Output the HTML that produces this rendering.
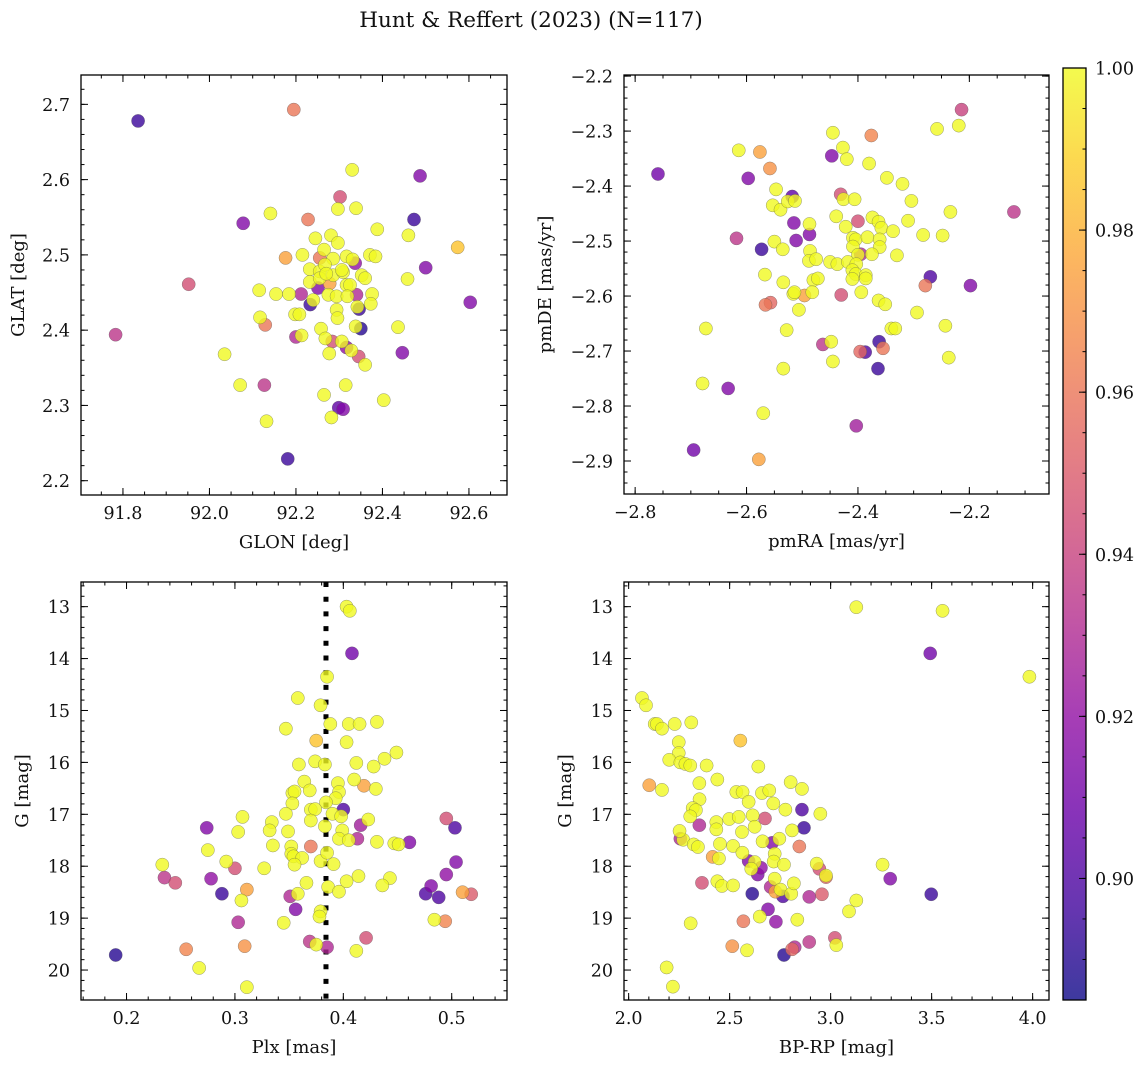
<!DOCTYPE html>
<html><head><meta charset="utf-8"><title>Hunt & Reffert (2023)</title>
<style>
html,body{margin:0;padding:0;background:#fff;}
svg{display:block;font-family:"DejaVu Serif","Liberation Serif",serif;}
</style></head>
<body>
<svg id="fig" width="1148" height="1068" viewBox="0 0 1148 1068" xmlns="http://www.w3.org/2000/svg">
<text x="531" y="27" font-size="21.5" text-anchor="middle" fill="#111">Hunt &amp; Reffert (2023) (N=117)</text>
</svg>
<script>
// ---------- data ----------
const glon=[91.835,92.195,92.330,92.487,92.302,92.297,92.339,92.141,92.228,92.078,92.473,92.388,92.460,92.574,92.281,92.245,92.297,92.265,92.176,92.215,92.255,92.286,92.317,92.337,92.371,92.384,92.500,92.232,92.255,92.267,92.286,92.309,92.352,92.360,92.458,91.952,92.278,92.232,92.317,92.325,92.115,92.154,92.184,92.212,92.251,92.275,92.294,92.319,92.340,92.376,92.373,92.233,92.240,92.346,92.342,92.294,92.296,92.198,92.208,92.117,92.129,92.350,92.338,92.436,91.783,92.200,92.213,92.258,92.268,92.284,92.306,92.317,92.328,92.345,92.360,92.277,92.446,92.035,92.071,92.127,92.315,92.265,92.403,92.299,92.309,92.132,92.282,92.181,92.603,92.255,92.306,92.331,92.270];
const glat=[2.678,2.693,2.613,2.605,2.577,2.561,2.562,2.555,2.547,2.542,2.547,2.534,2.526,2.510,2.526,2.522,2.516,2.507,2.496,2.500,2.496,2.495,2.498,2.489,2.500,2.498,2.483,2.481,2.478,2.487,2.473,2.477,2.473,2.469,2.468,2.461,2.462,2.464,2.460,2.460,2.453,2.448,2.448,2.448,2.456,2.447,2.445,2.445,2.447,2.448,2.435,2.434,2.440,2.428,2.431,2.427,2.416,2.421,2.421,2.417,2.407,2.402,2.405,2.404,2.394,2.391,2.393,2.402,2.389,2.385,2.385,2.377,2.373,2.365,2.354,2.369,2.370,2.368,2.327,2.327,2.327,2.314,2.307,2.297,2.295,2.279,2.284,2.229,2.437,2.469,2.480,2.494,2.475];
const glProb=[0.895,0.96,1,0.915,0.945,1,1,1,0.96,0.915,0.895,1,1,0.985,1,1,1,1,0.975,1,0.96,1,1,0.92,1,1,0.915,1,1,1,1,1,1,1,1,0.945,0.975,1,1,1,1,1,1,0.93,0.915,1,1,1,0.93,1,1,0.895,1,0.895,1,1,1,1,1,1,0.96,0.89,1,1,0.935,0.93,1,1,1,0.945,1,0.92,1,0.945,1,1,0.915,1,1,0.935,1,1,1,0.905,0.915,1,1,0.895,0.915,1,1,1,1];

const pmra=[-2.214,-2.258,-2.219,-2.445,-2.376,-2.614,-2.576,-2.447,-2.427,-2.420,-2.380,-2.759,-2.558,-2.597,-2.348,-2.320,-2.547,-2.518,-2.431,-2.553,-2.539,-2.526,-2.513,-2.426,-2.406,-2.304,-2.234,-2.120,-2.515,-2.487,-2.439,-2.400,-2.374,-2.363,-2.310,-2.422,-2.358,-2.337,-2.283,-2.248,-2.618,-2.511,-2.487,-2.550,-2.573,-2.535,-2.486,-2.409,-2.404,-2.383,-2.361,-2.409,-2.361,-2.395,-2.400,-2.375,-2.330,-2.488,-2.475,-2.450,-2.437,-2.418,-2.403,-2.410,-2.404,-2.567,-2.534,-2.480,-2.472,-2.410,-2.386,-2.386,-2.270,-2.279,-2.198,-2.516,-2.514,-2.496,-2.482,-2.430,-2.394,-2.566,-2.557,-2.506,-2.363,-2.351,-2.294,-2.673,-2.528,-2.340,-2.333,-2.243,-2.463,-2.448,-2.396,-2.387,-2.362,-2.355,-2.237,-2.445,-2.534,-2.364,-2.679,-2.633,-2.570,-2.403,-2.695,-2.578];
const pmde=[-2.261,-2.296,-2.290,-2.303,-2.308,-2.335,-2.338,-2.345,-2.330,-2.351,-2.359,-2.378,-2.368,-2.386,-2.385,-2.396,-2.406,-2.419,-2.415,-2.435,-2.443,-2.428,-2.427,-2.424,-2.424,-2.427,-2.447,-2.447,-2.467,-2.469,-2.455,-2.464,-2.457,-2.465,-2.463,-2.474,-2.476,-2.482,-2.489,-2.490,-2.495,-2.499,-2.488,-2.501,-2.515,-2.515,-2.518,-2.494,-2.497,-2.493,-2.497,-2.510,-2.511,-2.524,-2.525,-2.524,-2.526,-2.536,-2.533,-2.538,-2.542,-2.538,-2.542,-2.553,-2.560,-2.561,-2.575,-2.571,-2.568,-2.569,-2.562,-2.568,-2.565,-2.581,-2.581,-2.596,-2.593,-2.599,-2.593,-2.598,-2.593,-2.616,-2.612,-2.625,-2.608,-2.615,-2.630,-2.659,-2.662,-2.659,-2.659,-2.654,-2.688,-2.683,-2.701,-2.702,-2.683,-2.695,-2.712,-2.719,-2.732,-2.732,-2.759,-2.768,-2.813,-2.836,-2.880,-2.897];
const pmProb=[0.94,1,1,1,0.965,1,0.975,0.915,1,1,1,0.91,0.97,0.915,1,1,1,0.905,0.945,1,1,1,1,1,1,1,1,0.935,0.915,1,1,0.945,1,1,1,1,1,1,1,1,0.935,0.915,0.915,1,0.895,1,1,1,1,1,1,1,1,0.93,1,1,1,1,1,1,1,1,1,1,1,1,1,1,1,1,1,1,0.9,0.96,0.915,1,1,0.975,1,0.945,1,0.96,0.955,1,1,1,1,1,1,1,1,1,0.935,1,0.955,0.9,0.895,0.96,1,1,1,0.895,1,0.915,1,0.925,0.91,0.975];

const plx=[0.403,0.406,0.408,0.385,0.358,0.379,0.347,0.388,0.405,0.415,0.431,0.375,0.403,0.359,0.374,0.383,0.412,0.428,0.438,0.449,0.410,0.419,0.430,0.364,0.369,0.353,0.355,0.353,0.395,0.396,0.393,0.384,0.347,0.370,0.374,0.400,0.390,0.398,0.370,0.383,0.307,0.274,0.303,0.334,0.332,0.349,0.416,0.423,0.399,0.396,0.405,0.413,0.431,0.447,0.451,0.461,0.495,0.503,0.275,0.335,0.352,0.370,0.352,0.354,0.362,0.355,0.379,0.385,0.391,0.292,0.300,0.327,0.233,0.235,0.245,0.278,0.504,0.495,0.414,0.403,0.443,0.436,0.366,0.386,0.396,0.358,0.351,0.311,0.306,0.288,0.481,0.476,0.488,0.510,0.518,0.356,0.379,0.378,0.345,0.303,0.484,0.494,0.190,0.255,0.309,0.369,0.375,0.385,0.412,0.421,0.267,0.311];
const gmagL=[13.00,13.08,13.90,14.35,14.76,14.90,15.35,15.26,15.26,15.26,15.22,15.58,15.61,16.04,15.98,16.04,16.01,16.08,15.93,15.81,16.33,16.45,16.51,16.37,16.54,16.59,16.56,16.79,16.40,16.57,16.69,16.77,16.99,16.91,16.90,16.91,16.99,17.04,17.12,17.23,17.05,17.26,17.34,17.15,17.31,17.33,17.21,17.10,17.31,17.47,17.50,17.47,17.53,17.56,17.58,17.54,17.08,17.26,17.69,17.60,17.62,17.62,17.76,17.81,17.84,17.97,17.90,17.74,17.96,17.91,18.04,18.04,17.97,18.22,18.32,18.24,17.92,18.16,18.19,18.29,18.23,18.37,18.32,18.40,18.49,18.53,18.58,18.45,18.66,18.53,18.38,18.53,18.60,18.50,18.54,18.83,18.87,18.97,19.09,19.08,19.03,19.06,19.71,19.60,19.54,19.45,19.51,19.56,19.63,19.38,19.96,20.33];
const plxProb=[1,1,0.91,1,1,1,1,1,1,1,1,0.985,1,1,1,1,1,1,1,1,1,0.975,1,1,1,1,1,1,1,1,1,1,1,1,1,0.9,1,1,1,1,1,0.915,1,1,1,1,0.925,1,1,1,1,0.93,1,1,1,0.915,0.945,0.9,1,1,1,0.96,1,1,1,1,1,1,1,1,0.945,1,1,0.935,0.945,0.92,0.915,0.92,1,1,1,1,1,1,1,1,0.93,0.975,1,0.895,0.915,0.9,0.9,0.975,0.95,0.915,1,1,1,0.93,1,0.965,0.89,0.965,0.97,0.935,1,0.93,1,0.945,1,1];
const plxRef=[0.384];

const bprp=[3.127,3.554,3.493,3.984,2.066,2.086,2.129,2.140,2.165,2.228,2.310,2.553,2.248,2.248,2.201,2.256,2.281,2.305,2.386,2.642,2.102,2.165,2.350,2.439,2.802,2.858,2.351,2.317,2.333,2.305,2.533,2.564,2.594,2.660,2.696,2.716,2.776,2.858,2.949,2.868,2.350,2.434,2.434,2.498,2.545,2.561,2.614,2.624,2.675,2.809,2.256,2.270,2.252,2.322,2.343,2.452,2.517,2.563,2.663,2.710,2.746,2.845,2.416,2.447,2.594,2.624,2.655,2.607,2.639,2.723,2.718,2.769,2.931,2.944,2.977,2.977,3.257,3.295,2.363,2.439,2.462,2.517,2.723,2.703,2.726,2.752,2.764,2.805,2.818,2.612,2.894,2.957,3.498,3.127,3.091,2.690,2.649,2.729,2.568,2.835,2.307,3.021,3.028,2.894,2.822,2.809,2.769,2.513,2.586,2.188,2.219];
const gmagC=[13.01,13.08,13.90,14.35,14.76,14.90,15.26,15.26,15.35,15.26,15.23,15.58,15.61,15.82,15.95,16.00,16.03,16.06,16.06,16.08,16.44,16.53,16.40,16.33,16.38,16.51,16.71,16.88,16.92,17.04,16.57,16.57,16.76,16.59,16.54,16.79,16.91,16.91,16.99,17.26,17.21,17.15,17.29,17.09,17.05,17.34,17.02,17.24,17.08,17.31,17.47,17.49,17.32,17.58,17.63,17.57,17.61,17.74,17.52,17.55,17.47,17.62,17.82,17.85,17.90,17.92,18.03,18.05,18.16,17.76,17.91,17.97,17.95,18.05,18.21,18.18,17.97,18.24,18.32,18.29,18.38,18.37,18.24,18.40,18.49,18.45,18.58,18.53,18.33,18.53,18.59,18.54,18.54,18.66,18.87,18.83,18.97,19.07,19.06,19.03,19.10,19.38,19.52,19.46,19.56,19.60,19.71,19.54,19.62,19.95,20.32];
const cmdProb=[1,1,0.91,1,1,1,1,1,1,1,1,0.985,1,1,1,1,1,1,1,1,0.975,1,1,1,1,1,1,1,1,1,1,1,1,1,1,1,1,0.9,1,0.895,0.93,1,1,1,1,1,1,1,0.945,1,0.93,1,1,1,1,1,1,1,1,0.915,1,0.96,0.975,1,0.915,1,0.92,1,0.915,1,1,1,1,0.945,0.955,1,1,0.915,0.945,1,1,1,1,0.93,0.975,1,0.9,1,1,0.89,0.93,0.95,0.895,1,1,0.915,1,0.92,0.96,1,1,0.945,1,0.935,0.93,0.955,0.89,0.97,1,1,1];

const tlXTicks=[91.8,92.0,92.2,92.4,92.6], tlYTicks=[2.2,2.3,2.4,2.5,2.6,2.7];
const trXTicks=[-2.8,-2.6,-2.4,-2.2], trYTicks=[-2.9,-2.8,-2.7,-2.6,-2.5,-2.4,-2.3,-2.2];
const blXTicks=[0.2,0.3,0.4,0.5], gTicks=[13,14,15,16,17,18,19,20];
const brXTicks=[2.0,2.5,3.0,3.5,4.0];
const cbTicks=[0.90,0.92,0.94,0.96,0.98,1.00];
const probMin=0.885, probMax=1.0;

// ---------- helpers ----------
const NS="http://www.w3.org/2000/svg";
const svg=document.getElementById('fig');
const TICK_FS=17.5, LABEL_FS=18;
function mk(tag,attrs,parent){const e=document.createElementNS(NS,tag);for(const k in attrs)e.setAttribute(k,attrs[k]);(parent||svg).appendChild(e);return e;}
const stops=[[13,8,135],[65,4,157],[106,0,168],[143,13,164],[177,42,144],[204,71,120],[225,100,98],[242,132,75],[252,166,54],[252,206,37],[240,249,33]];
function plasma(t){t=Math.max(0,Math.min(1,t));const f=t*10,i=Math.min(9,Math.floor(f)),r=f-i;const a=stops[i],b=stops[i+1];return 'rgb('+[0,1,2].map(k=>Math.round(a[k]+(b[k]-a[k])*r)).join(',')+')';}
function pcol(p){return plasma((p-probMin)/(probMax-probMin));}
function fmt(v,d){const s=Math.abs(v).toFixed(d);return (v<0?'\u2212':'')+s;}

function panel(o){
  const g=mk('g',{});
  
  
  const sx=v=>o.x0+(v-o.xmin)/(o.xmax-o.xmin)*(o.x1-o.x0);
  const sy=o.yinv? (v=>o.y0+(v-o.ymin)/(o.ymax-o.ymin)*(o.y1-o.y0)) : (v=>o.y1-(v-o.ymin)/(o.ymax-o.ymin)*(o.y1-o.y0));
  const clipId='clip-'+o.name;
  const cp=mk('clipPath',{id:clipId},g);mk('rect',{x:o.x0,y:o.y0,width:o.x1-o.x0,height:o.y1-o.y0},cp);
  const pts=mk('g',{'clip-path':'url(#'+clipId+')'},g);
  
  
  if(o.vline!==undefined){
    const l=mk('line',{x1:sx(o.vline),x2:sx(o.vline),y1:o.y0,y2:o.y1,stroke:'#000','stroke-width':5,'stroke-dasharray':'5,9.7'},pts);
    
    
  }
  const order=o.xs.map((_,i)=>i).sort((a,b)=>o.c[a]-o.c[b]);
  for(const i of order){
    const c=mk('circle',{cx:sx(o.xs[i]),cy:sy(o.ys[i]),r:6.6,fill:pcol(o.c[i]),'fill-opacity':0.8,stroke:'#555','stroke-opacity':0.6,'stroke-width':0.5},pts);
    
    
  }
  const tk=mk('g',{stroke:'#000','stroke-width':1},g);
  function minors(min,max,step){const a=[];for(let v=Math.ceil(min/step-1e-6)*step;v<=max+1e-9;v+=step)a.push(v);return a;}
  for(const v of minors(o.xmin,o.xmax,o.xminor)){const x=sx(v);mk('line',{x1:x,x2:x,y1:o.y1,y2:o.y1-3.5},tk);mk('line',{x1:x,x2:x,y1:o.y0,y2:o.y0+3.5},tk);}
  for(const v of minors(o.ymin,o.ymax,o.yminor)){const y=sy(v);mk('line',{x1:o.x0,x2:o.x0+3.5,y1:y,y2:y},tk);mk('line',{x1:o.x1,x2:o.x1-3.5,y1:y,y2:y},tk);}
  for(const v of o.xt){const x=sx(v);mk('line',{x1:x,x2:x,y1:o.y1,y2:o.y1-7},tk);mk('line',{x1:x,x2:x,y1:o.y0,y2:o.y0+7},tk);
    const t=mk('text',{x:x,y:o.y1+24,'font-size':TICK_FS,'text-anchor':'middle',fill:'#111'},g);t.textContent=o.xfmt(v);
    }
  for(const v of o.yt){const y=sy(v);mk('line',{x1:o.x0,x2:o.x0+7,y1:y,y2:y},tk);mk('line',{x1:o.x1,x2:o.x1-7,y1:y,y2:y},tk);
    const t=mk('text',{x:o.x0-11,y:y+6.5,'font-size':TICK_FS,'text-anchor':'end',fill:'#111'},g);t.textContent=o.yfmt(v);
    }
  mk('rect',{x:o.x0,y:o.y0,width:o.x1-o.x0,height:o.y1-o.y0,fill:'none',stroke:'#000','stroke-width':1.3},g);
  const xl=mk('text',{x:(o.x0+o.x1)/2,y:o.y1+53,'font-size':LABEL_FS,'text-anchor':'middle',fill:'#111'},g);xl.textContent=o.xlabel;
  
  const yc=(o.y0+o.y1)/2;
  const yl=mk('text',{x:o.ylx,y:yc,'font-size':LABEL_FS,'text-anchor':'middle',fill:'#111',transform:'rotate(-90 '+o.ylx+' '+yc+')'},g);yl.textContent=o.ylabel;
  
}

panel({name:'glon-glat-panel',x0:81,x1:507,y0:75,y1:495,xmin:91.703,xmax:92.688,ymin:2.181,ymax:2.739,xs:glon,ys:glat,c:glProb,
  xt:tlXTicks,yt:tlYTicks,xminor:0.05,yminor:0.02,xfmt:v=>v.toFixed(1),yfmt:v=>v.toFixed(1),xlabel:'GLON [deg]',ylabel:'GLAT [deg]',ylx:24});
panel({name:'proper-motion-panel',x0:624,x1:1049,y0:75,y1:494,xmin:-2.820,xmax:-2.057,ymin:-2.960,ymax:-2.198,xs:pmra,ys:pmde,c:pmProb,
  xt:trXTicks,yt:trYTicks,xminor:0.05,yminor:0.02,xfmt:v=>fmt(v,1),yfmt:v=>fmt(v,1),xlabel:'pmRA [mas/yr]',ylabel:'pmDE [mas/yr]',ylx:551});
panel({name:'parallax-magnitude-panel',x0:81,x1:507,y0:582,y1:1000,xmin:0.158,xmax:0.551,ymin:12.525,ymax:20.577,yinv:true,xs:plx,ys:gmagL,c:plxProb,vline:plxRef[0],
  xt:blXTicks,yt:gTicks,xminor:0.02,yminor:0.2,xfmt:v=>v.toFixed(1),yfmt:v=>String(v),xlabel:'Plx [mas]',ylabel:'G [mag]',ylx:28});
panel({name:'color-magnitude-panel',x0:624,x1:1049,y0:582,y1:1000,xmin:1.977,xmax:4.081,ymin:12.525,ymax:20.577,yinv:true,xs:bprp,ys:gmagC,c:cmdProb,
  xt:brXTicks,yt:gTicks,xminor:0.1,yminor:0.2,xfmt:v=>v.toFixed(1),yfmt:v=>String(v),xlabel:'BP-RP [mag]',ylabel:'G [mag]',ylx:571});

(function(){
  const g=mk('g',{});
  
  
  const x0=1063,x1=1086,y0=68,y1=1000;
  const defs=mk('defs',{},g);
  const lg=mk('linearGradient',{id:'cbgrad',x1:0,y1:1,x2:0,y2:0},defs);
  for(let i=0;i<=20;i++){mk('stop',{offset:(i/20),'stop-color':plasma(i/20),'stop-opacity':0.8},lg);}
  mk('rect',{x:x0,y:y0,width:x1-x0,height:y1-y0,fill:'url(#cbgrad)',stroke:'#000','stroke-width':1.3},g);
  const sy=v=>y1-(v-probMin)/(probMax-probMin)*(y1-y0);
  for(let v=0.89;v<=1.0001;v+=0.005){mk('line',{x1:x1,x2:x1-3.5,y1:sy(v),y2:sy(v),stroke:'#000'},g);}
  for(const v of cbTicks){const y=sy(v);mk('line',{x1:x1,x2:x1-7,y1:y,y2:y,stroke:'#000'},g);
    const t=mk('text',{x:x1+9,y:y+6.5,'font-size':TICK_FS,fill:'#111'},g);t.textContent=v.toFixed(2);
    }
})();
</script>
</body></html>
